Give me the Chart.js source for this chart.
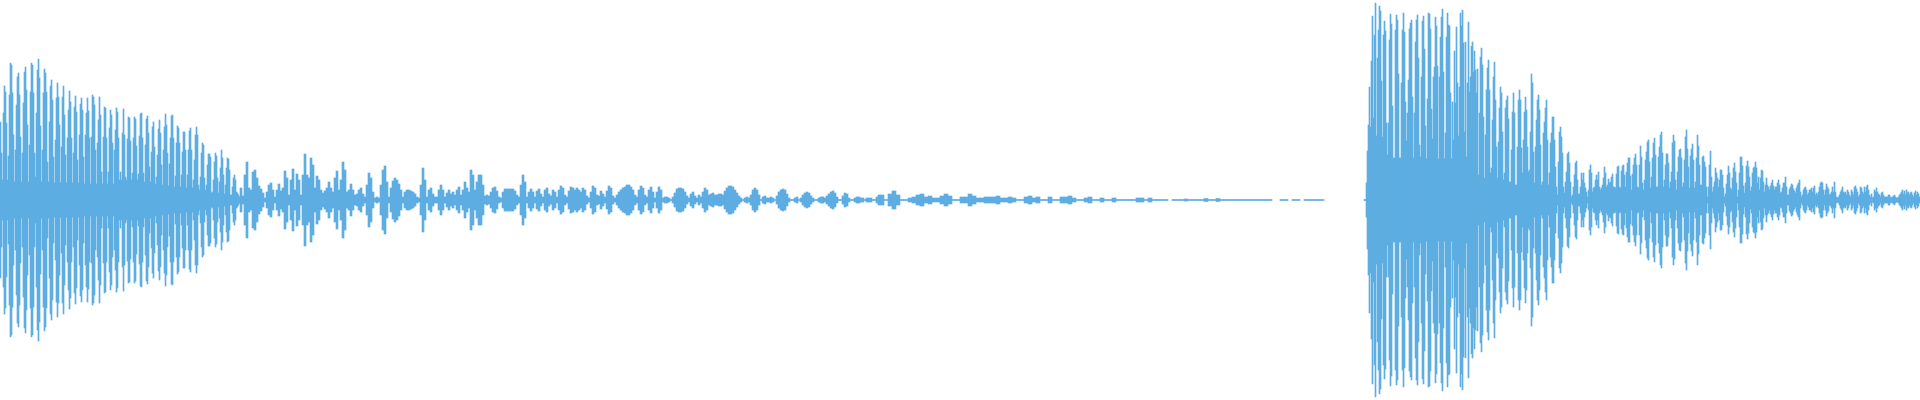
<!DOCTYPE html>
<html>
<head>
<meta charset="utf-8">
<script src="https://cdn.jsdelivr.net/npm/chart.js@4.4.1/dist/chart.umd.min.js"></script>
<style>
  html, body { margin: 0; padding: 0; background: #ffffff; }
  #wrap { width: 1920px; height: 400px; position: relative; }
</style>
</head>
<body>
<div id="wrap"><canvas id="wave"></canvas></div>
<script>
// Waveform peak amplitudes (sample units, full scale = 200), one value per frame block.
// Frame = one time column of the recording.

// 1st note attack: frames 0-239, one value per frame
const attackFrame0 = 0, attackHop = 1;
const attackAmp = [
  78,47,20,87,114,108,77,20,44,105, 137,135,107,65,18,50,95,123,127,105,
  63,18,47,97,128,133,110,75,18,55, 108,137,135,107,47,23,87,130,141,122,
  74,18,50,107,131,127,108,38,18,78, 114,120,100,43,17,60,102,117,103,75,
  17,53,103,114,85,45,17,62,90,109, 98,62,17,47,93,104,88,40,17,65,
  96,102,90,43,16,65,87,102,89,62, 16,63,105,103,95,50,16,57,80,103,
  85,28,16,63,93,92,62,16,28,72, 90,85,57,16,50,70,92,88,62,20,
  28,20,67,91,65,23,20,61,83,82, 59,20,27,62,83,81,54,20,26,64,
  86,87,62,27,18,55,81,84,67,33, 18,48,73,78,53,16,23,45,71,80,
  67,35,15,50,73,86,75,47,14,36, 62,84,85,62,13,24,57,74,72,57,
  13,25,48,68,68,50,12,25,50,69, 72,50,12,20,40,65,73,65,15,10,
  23,47,57,55,22,10,15,35,46,46, 43,7,8,20,38,47,44,22,7,18,
  32,50,42,25,6,15,32,42,41,30, 5,5,13,22,25,20,8,7,5,3
];

// beating section: frames 240-479, one value per 2 frames
const beatFrame0 = 240, beatHop = 2;
const beatAmp = [
  12,4,25,38,12,10,28,30,22,14, 11,7,2,8,15,17,10,3,10,16,
  9,12,29,22,5,20,31,10,26,20, 5,25,46,25,22,42,35,12,24,20,
  10,7,9,12,18,12,8,22,29,10, 20,38,30,8,10,16,10,5,6,10,
  12,6,3,15,27,22,8,2,3,2, 15,30,34,18,3,12,19,22,20,16,
  10,3,8,10,10,9,8,6,3,2, 15,32,20,3,10,12,6,3,3,10,
  15,10,3,7,10,6,8,5,10,13, 5,10,18,12,8,30,25,10,18,25
];

// fading section: frames 480-879, one value per 2 frames
const fadeFrame0 = 480, fadeHop = 2;
const fadeAmp = [
  25,15,4,5,4,8,12,13,9,3, 2,8,11,11,11,11,11,9,5,3,
  15,25,18,3,8,11,8,3,9,11, 6,3,10,12,6,4,10,8,3,10,
  14,12,5,3,9,13,12,10,12,10, 8,12,10,4,2,8,14,12,5,4,
  9,6,3,9,14,12,4,2,5,8, 10,12,13,15,15,13,10,5,3,10,
  14,12,5,3,10,13,8,2,8,13, 10,2,3,3,2,0.5,3,7,11,12,
  12,11,8,4,2,6,8,4,2,5, 3,8,12,10,5,6,7,5,5,6,
  6,5,9,12,14,14,13,10,7,4, 2,0.5,2,3,2,5,10,12,10,5,
  0.5,3,4,2,2,3,2,0.5,4,8, 10,11,10,6,2,0.5,0.5,2,3,0.5,
  2,5,7,8,7,4,2,0.5,0.5,2, 3,3,2,4,6,8,9,7,3,0.5,
  0.5,4,7,6,2,0.5,0.5,2,3,3, 2,2,0.5,2,2,2,0.5,0.5,3,5
];

// release tail: frames 880-1323, one value per 4 frames
const tailFrame0 = 880, tailHop = 4;
const tailAmp = [
  5,0.5,6,9,5,0.5,0.5,2,3,5, 6,3,4,2,2,4,6,4,0.5,0.5,
  3,3,6,4,2,2,3,3,3,4, 2,2,3,2,0.5,0.5,3,4,2,3,
  0.5,0.5,3,0.5,0.5,3,3,4,2,0.5, 0.5,2,3,0.5,0.5,2,0.5,0.5,2,0.5,
  0.5,0.5,0.5,0.5,2,2,0.5,2,0.5,0.5, 0.5,0.5,0,0.5,0.5,0.5,1,0.5,0.5,0.5,
  0.5,1.5,0.5,0.5,1.5,0.5,0.5,0.5,0.5,0.5, 0.5,0.5,0.5,0.5,0.5,0.5,0.5,0.5,0,0,
  0.5,0.5,0,0.5,0.5,0,0.5,0.5,0.5,0.5, 0.5
];

// 2nd note strike: frames 1364-1599, one value per frame
const strikeFrame0 = 1364, strikeHop = 1;
const strikeAmp = [
  0.5,0.5,17,49,75,113,73,139,184,82, 165,197,64,142,170,194,189,119,63,165,
  179,169,77,45,77,160,186,176,94,42, 42,170,185,180,126,42,42,117,170,187,
  168,98,59,87,120,171,177,180,103,42, 87,158,180,185,142,55,43,123,179,184,
  151,74,41,101,187,186,171,91,61,123, 133,183,174,134,41,123,163,183,191,128,
  41,67,163,187,175,174,107,41,98,60, 149,97,173,117,64,113,187,174,190,157,
  68,158,43,117,178,108,123,154,158,128, 149,130,107,131,25,87,
  143,152,135,83,22,65,110,132,140,110, 27,32,80,123,138,100,53,22,58,92,
  113,107,68,20,27,92,100,104,81,18, 18,50,88,107,87,15,15,53,100,110,
  100,52,27,60,88,103,90,53,28,30, 68,126,117,48,17,53,80,100,105,90,
  55,15,18,67,78,92,100,60,15,27, 57,67,83,83,60,33,13,5,38,68,
  73,63,47,13,7,18,28,46,48,37, 18,3,5,13,25,37,39,20,6,6,
  13,27,20,27,17,12,8,3,10,30, 35,27,8,12,13,20,25,20,28,13
];

// 2nd note swell and decay: frames 1600-1919, one value per frame
const decayFrame0 = 1600, decayHop = 1;
const decayAmp = [
  10,12,15,22,33,27,13,15,21,17, 18,23,26,13,13,12,26,33,34,13,
  12,29,34,35,25,13,28,37,42,42, 24,10,26,35,42,46,35,13,12,35,
  54,43,17,10,20,40,48,58,60,38, 12,23,42,57,62,45,13,13,43,53,
  65,68,47,13,20,35,46,46,37,12, 18,28,57,65,59,20,10,28,43,50,
  51,42,13,17,40,63,70,51,33,12, 44,51,56,40,12,18,42,65,54,35,
  15,15,43,44,38,33,13,3,13,35, 49,23,8,13,18,32,27,22,13,20,
  30,30,25,12,3,6,16,25,34,27, 12,10,22,32,37,28,17,3,10,27,
  43,43,34,14,7,17,34,39,33,23, 9,13,27,32,33,38,32,17,23,10,
  22,30,29,18,8,15,22,15,13,10, 14,17,20,14,10,13,13,17,20,15,
  7,8,12,17,17,23,13,5,5,11, 13,16,15,11,9,7,12,15,17,20,
  8,3,5,10,12,13,10,5,7,10, 10,12,8,12,14,5,7,5,8,13,
  17,18,17,10,5,10,16,13,11,5, 6,8,13,8,18,8,3,2,3,5,
  8,10,13,8,7,8,5,10,8,5, 3,10,8,5,13,14,11,8,3,5,
  13,12,8,6,13,8,13,15,10,5, 3,6,2,3,10,8,12,8,6,5,
  3,7,8,5,3,3,3,3,5,5, 3,2,3,4,5,3,2,2,3,5,
  6,8,10,6,9,5,10,7,8,5, 7,8,5,3,7,9,5,8,6,3
];

const totalFrames = 1920;
const WAVE_COLOR = '#5DADE2';

const segments = [
  { frame0: attackFrame0, hop: attackHop, amp: attackAmp },
  { frame0: beatFrame0,   hop: beatHop,   amp: beatAmp },
  { frame0: fadeFrame0,   hop: fadeHop,   amp: fadeAmp },
  { frame0: tailFrame0,   hop: tailHop,   amp: tailAmp },
  { frame0: strikeFrame0, hop: strikeHop, amp: strikeAmp },
  { frame0: decayFrame0,  hop: decayHop,  amp: decayAmp }
];

const datasets = segments.map(s => ({
  label: 'waveform',
  data: s.amp
    .map((a, i) => ({ x: s.frame0 + i * s.hop + (s.hop - 1) / 2, y: [-a, a] }))
    .filter(d => d.y[1] > 0),
  backgroundColor: WAVE_COLOR,
  borderWidth: 0,
  barThickness: s.hop,
  grouped: false
}));

new Chart(document.getElementById('wave'), {
  type: 'bar',
  data: { datasets },
  options: {
    responsive: true,
    maintainAspectRatio: false,
    animation: false,
    layout: { padding: 0 },
    plugins: { legend: { display: false }, tooltip: { enabled: false } },
    scales: {
      x: { type: 'linear', min: -0.5, max: totalFrames - 0.5, display: false, offset: false, grid: { display: false } },
      y: { min: -200, max: 200, display: false, grid: { display: false } }
    }
  }
});
</script>
</body>
</html>
